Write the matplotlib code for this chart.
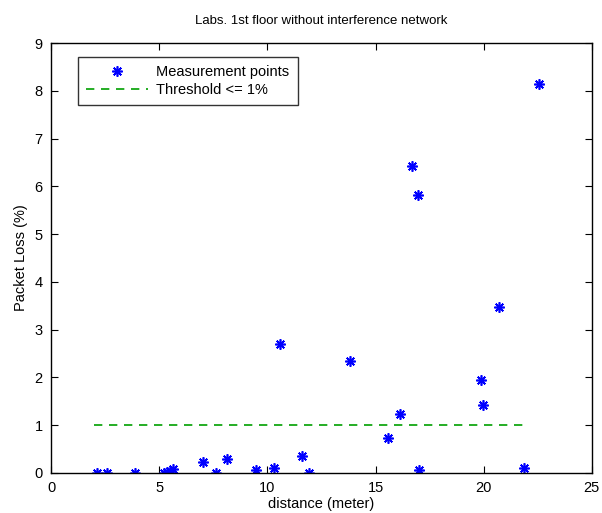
import matplotlib
matplotlib.use("Agg")
import matplotlib.pyplot as plt

plt.rcParams['font.family'] = ['Liberation Sans', 'DejaVu Sans']

distance = [2.13, 2.59, 3.88, 5.2, 5.35, 5.5, 5.62, 7.04, 7.61, 8.15, 9.47,
            10.32, 10.58, 11.61, 11.94, 13.82, 15.59, 16.13, 16.67, 16.98,
            17.02, 19.90, 19.95, 20.72, 21.86, 22.57]
packet_loss = [0.0, 0.0, 0.0, 0.0, 0.02, 0.05, 0.08, 0.24, 0.0, 0.29, 0.06,
               0.1, 2.70, 0.36, 0.0, 2.35, 0.74, 1.23, 6.42, 5.82,
               0.06, 1.95, 1.42, 3.47, 0.1, 8.15]
threshold_x = [2, 22]
threshold_y = [1, 1]

fig = plt.figure(figsize=(6.02, 5.13), dpi=100)
ax = fig.add_axes([0.085, 0.078, 0.898, 0.838])

ax.plot(distance, packet_loss, linestyle='none', marker=(8, 2, 0),
        color='#0000ff', markersize=7.5, markeredgewidth=1.2,
        label='Measurement points')
ax.plot(threshold_x, threshold_y, linestyle=(0, (5, 4)), color='#00a000',
        linewidth=1.2, label='Threshold <= 1%')

ax.set_xlim(0, 25)
ax.set_ylim(0, 9)
ax.set_xticks([0, 5, 10, 15, 20, 25])
ax.set_yticks(range(0, 10))
ax.tick_params(direction='in', top=True, right=True, labelsize=10.5, length=5)
ax.tick_params(axis='x', pad=6)
ax.tick_params(axis='y', pad=6)
for s in ax.spines.values():
    s.set_linewidth(1.0)

ax.set_title('Labs. 1st floor without interference network', fontsize=9.5, pad=14)
ax.set_xlabel('distance (meter)', fontsize=10.5, labelpad=1)
ax.set_ylabel('Packet Loss (%)', fontsize=10.5, labelpad=5)

leg = ax.legend(loc='upper left', bbox_to_anchor=(0.045, 0.975), fontsize=10.5,
                frameon=True, fancybox=False, edgecolor='black',
                handlelength=4.2, handletextpad=0.6, borderpad=0.55,
                labelspacing=0.3, borderaxespad=0.2)
leg.get_frame().set_linewidth(1.0)

fig.savefig('out.png', dpi=100)
